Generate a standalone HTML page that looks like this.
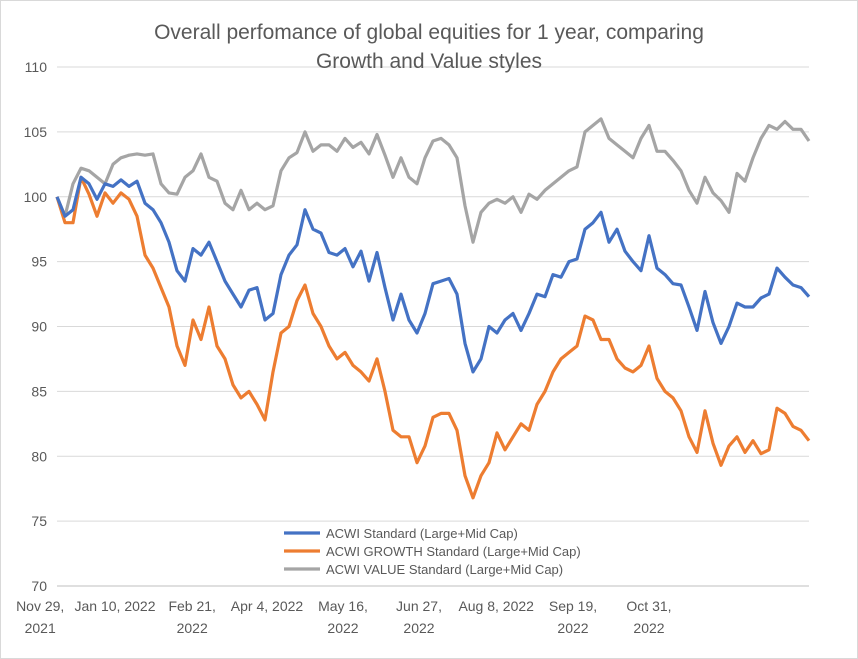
<!DOCTYPE html>
<html><head><meta charset="utf-8"><style>
body{margin:0;background:#fff;}
svg{display:block;font-family:"Liberation Sans",sans-serif;}
</style></head><body>
<svg id="chart" width="858" height="659">
<rect x="0.5" y="0.5" width="857" height="658" fill="#fff" stroke="#d9d9d9"/>
<g id="grid"></g>
<text x="429" y="39" text-anchor="middle" font-size="21" fill="#595959">Overall perfomance of global equities for 1 year, comparing</text>
<text x="429" y="68" text-anchor="middle" font-size="21" fill="#595959">Growth and Value styles</text>
<g id="series"></g><g id="xaxis"></g><g id="legend"></g>
</svg>
<script>
const yTicks=[70,75,80,85,90,95,100,105,110];
const xLabels1=["Nov 29,","Jan 10, 2022","Feb 21,","Apr 4, 2022","May 16,","Jun 27,","Aug 8, 2022","Sep 19,","Oct 31,"];
const xLabels2=["2021","","2022","","2022","2022","","2022","2022"];
const xLabelIdx=[-2.1,7.25,16.9,26.25,35.75,45.25,54.9,64.5,74];
const valueSeries=[100,98.5,101,102.2,102,101.5,101,102.5,103,103.2,103.3,103.2,103.3,101,100.3,100.2,101.5,102,103.3,101.5,101.2,99.5,99,100.5,99,99.5,99,99.3,102,103,103.4,105,103.5,104,104,103.5,104.5,103.8,104.2,103.3,104.8,103.2,101.5,103,101.5,101,103,104.3,104.5,104,103,99.3,96.5,98.8,99.5,99.8,99.5,100,98.8,100.2,99.8,100.5,101,101.5,102,102.3,105,105.5,106,104.5,104,103.5,103,104.5,105.5,103.5,103.5,102.8,102,100.5,99.5,101.5,100.3,99.7,98.8,101.8,101.2,103,104.5,105.5,105.2,105.8,105.2,105.2,104.3];
const acwiSeries=[100,98.5,99,101.5,101,99.8,101,100.8,101.3,100.8,101.2,99.5,99,98,96.5,94.3,93.5,96,95.5,96.5,95,93.5,92.5,91.5,92.8,93,90.5,91,94,95.5,96.3,99,97.5,97.2,95.7,95.5,96,94.6,95.8,93.5,95.7,93,90.5,92.5,90.5,89.5,91,93.3,93.5,93.7,92.5,88.7,86.5,87.5,90,89.5,90.5,91,89.7,91,92.5,92.3,94,93.8,95,95.2,97.5,98,98.8,96.5,97.5,95.8,95,94.3,97,94.5,94,93.3,93.2,91.5,89.7,92.7,90.3,88.7,90,91.8,91.5,91.5,92.2,92.5,94.5,93.8,93.2,93,92.3];
const growthSeries=[100,98,98,101.5,100.2,98.5,100.3,99.5,100.3,99.8,98.5,95.5,94.5,93,91.5,88.5,87,90.5,89,91.5,88.5,87.5,85.5,84.5,85,84,82.8,86.5,89.5,90,92,93.2,91,90,88.5,87.5,88,87,86.5,85.8,87.5,85,82,81.5,81.5,79.5,80.8,83,83.3,83.3,82,78.5,76.8,78.5,79.5,81.8,80.5,81.5,82.5,82,84,85,86.5,87.5,88,88.5,90.8,90.5,89,89,87.5,86.8,86.5,87,88.5,86,85,84.5,83.5,81.5,80.3,83.5,81,79.3,80.8,81.5,80.3,81.2,80.2,80.5,83.7,83.3,82.3,82,81.2];
const seriesNames=["ACWI Standard (Large+Mid Cap)","ACWI GROWTH Standard (Large+Mid Cap)","ACWI VALUE Standard (Large+Mid Cap)"];
const NS="http://www.w3.org/2000/svg";
const X0=57,X1=809,Y0=586,Y1=67;
const n=valueSeries.length;
function xs(i){return X0+i*(X1-X0)/(n-1);}
function ys(v){return Y0-(v-70)*(Y0-Y1)/40;}
function mk(t,a,p){const e=document.createElementNS(NS,t);for(const k in a)e.setAttribute(k,a[k]);p.appendChild(e);return e;}
const grid=document.getElementById('grid');
yTicks.forEach(t=>{
  const l=mk('line',{x1:X0,x2:X1,y1:ys(t),y2:ys(t),stroke:t===70?'#bfbfbf':'#d9d9d9','stroke-width':1},grid);
  
  
  const tx=mk('text',{x:47,y:ys(t)+5,'text-anchor':'end','font-size':14,fill:'#595959'},grid);
  tx.textContent=t;
  
  
});
const xa=document.getElementById('xaxis');
xLabelIdx.forEach((ix,k)=>{
  const x=xs(ix);
  const t1=mk('text',{x:x,y:611,'text-anchor':'middle','font-size':14,fill:'#595959'},xa);
  t1.textContent=xLabels1[k];
  
  
  if(xLabels2[k]){const t2=mk('text',{x:x,y:633,'text-anchor':'middle','font-size':14,fill:'#595959'},xa);
  t2.textContent=xLabels2[k];
  
  }
});
const sg=document.getElementById('series');
const defs=[[valueSeries,'#a5a5a5','value-line'],[growthSeries,'#ed7d31','growth-line'],[acwiSeries,'#4472c4','acwi-line']];
defs.forEach(d=>{
  const p=mk('polyline',{points:d[0].map((v,i)=>xs(i).toFixed(1)+','+ys(v).toFixed(1)).join(' '),fill:'none',stroke:d[1],'stroke-width':3.2,'stroke-linejoin':'round'},sg);
  
  
});
const lg=document.getElementById('legend');
const lc=['#4472c4','#ed7d31','#a5a5a5'];
seriesNames.forEach((s,k)=>{
  const y=533+k*18;
  const l=mk('line',{x1:284,x2:320,y1:y,y2:y,stroke:lc[k],'stroke-width':3.2},lg);
  
  
  const t=mk('text',{x:326,y:y+5,'font-size':13,fill:'#595959'},lg);
  t.textContent=s;
  
  
});
</script>
</body></html>
